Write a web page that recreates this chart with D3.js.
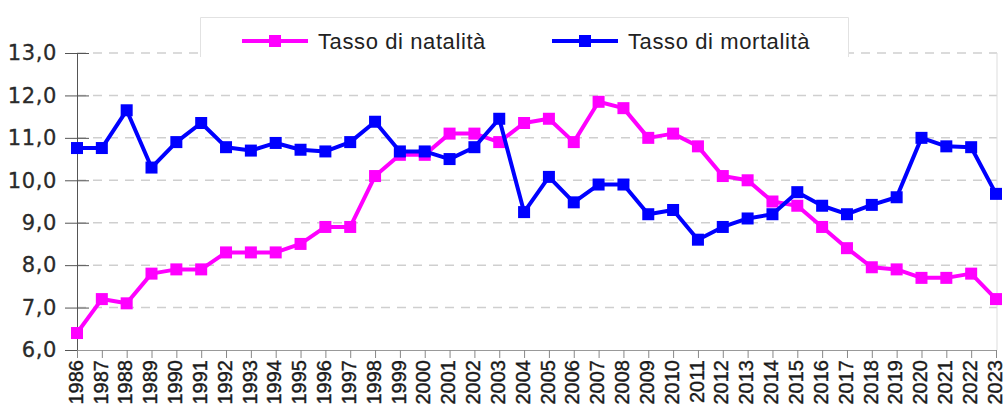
<!DOCTYPE html>
<html>
<head>
<meta charset="utf-8">
<script src="https://cdn.jsdelivr.net/npm/d3@7"></script>
<style>
  html, body { margin: 0; padding: 0; background: #fff; }
  svg { display: block; }
</style>
</head>
<body>
<div id="chart"></div>
<script>
/* DATA */
const years = d3.range(1986, 2024);
const natalita = [6.4, 7.2, 7.1, 7.8, 7.9, 7.9, 8.3, 8.3, 8.3, 8.5, 8.9, 8.9, 10.1, 10.6, 10.6, 11.1, 11.1, 10.9, 11.35, 11.45,
  10.9, 11.85, 11.7, 11.0, 11.1, 10.8, 10.1, 10.0, 9.5, 9.4, 8.9, 8.4, 7.95, 7.9, 7.7, 7.7, 7.8, 7.2];
const mortalita = [10.76, 10.76, 11.65, 10.3, 10.9, 11.35, 10.78, 10.7, 10.88, 10.72, 10.68, 10.9, 11.38, 10.68, 10.68, 10.5, 10.78, 11.45, 9.25, 10.08,
  9.48, 9.9, 9.9, 9.2, 9.3, 8.6, 8.9, 9.1, 9.2, 9.72, 9.4, 9.2, 9.42, 9.6, 11.0, 10.8, 10.78, 9.68];
const yTicks = [6, 7, 8, 9, 10, 11, 12, 13];
const seriesNames = ["Tasso di natalità", "Tasso di mortalità"];
const seriesColors = ["#ff00ff", "#0000ff"];

/* LAYOUT */
const width = 1006, height = 415;
const margin = { left: 77, right: 996, top: 53, bottom: 350 };

const svg = d3.select("#chart").append("svg")
  .attr("width", width)
  .attr("height", height);

const xScale = d3.scaleLinear().domain([1986, 2023]).range([margin.left, margin.right]);
const yScale = d3.scaleLinear().domain([6, 13]).range([margin.bottom, margin.top]);

const itFormat = d3.formatLocale({ decimal: ",", thousands: ".", grouping: [3], currency: ["", "€"] }).format(".1f");

// gridlines
svg.append("g")
  .selectAll("line")
  .data(yTicks.filter(d => d > 6))
  .join("line")
  .attr("x1", margin.left)
  .attr("x2", margin.right + 1)
  .attr("y1", d => yScale(d))
  .attr("y2", d => yScale(d))
  .attr("stroke", "#cfcfcf")
  .attr("stroke-width", 1.5)
  .attr("stroke-dasharray", "9,7");

// right frame
svg.append("line")
  .attr("x1", margin.right + 1).attr("x2", margin.right + 1)
  .attr("y1", margin.top).attr("y2", margin.bottom)
  .attr("stroke", "#dddddd");

// y axis
const yAxis = d3.axisLeft(yScale)
  .tickValues(yTicks)
  .tickFormat(itFormat)
  .tickSizeInner(12)
  .tickSizeOuter(0);

const yAxisGroup = svg.append("g")
  .attr("transform", `translate(${margin.left},0)`)
  .call(yAxis);
yAxisGroup.select(".domain").attr("stroke", "#555");
yAxisGroup.selectAll(".tick line").attr("stroke", "#555").attr("x1", 12).attr("x2", -12);
yAxisGroup.selectAll(".tick text")
  .attr("font-family", "DejaVu Sans, Verdana, sans-serif")
  .attr("font-size", 21)
  .attr("letter-spacing", 0.6)
  .attr("fill", "#2a2a2a")
  .attr("stroke", "#2a2a2a")
  .attr("stroke-width", 0.3)
  .attr("x", -20);

// x axis
const xAxis = d3.axisBottom(xScale)
  .tickValues(years)
  .tickFormat(d => String(d))
  .tickSizeInner(8)
  .tickSizeOuter(0);

const xAxisGroup = svg.append("g")
  .attr("transform", `translate(0,${margin.bottom})`)
  .call(xAxis);
xAxisGroup.select(".domain").attr("stroke", "#999").attr("d", `M${margin.left},0.5H${margin.right + 1}`);
xAxisGroup.selectAll(".tick line").attr("stroke", "#888");
xAxisGroup.selectAll(".tick text")
  .attr("font-family", "Liberation Sans, Arial, sans-serif")
  .attr("font-size", 20)
  .attr("fill", "#1a1a1a")
  .attr("stroke", "#1a1a1a")
  .attr("stroke-width", 0.4)
  .attr("text-anchor", "end")
  .attr("transform", "rotate(-90)")
  .attr("x", -10)
  .attr("y", 0)
  .attr("dy", "0.26em");

// lines + markers
const lineGen = d3.line()
  .x((d, i) => xScale(years[i]))
  .y(d => yScale(d));

[natalita, mortalita].forEach((series, s) => {
  svg.append("path")
    .datum(series)
    .attr("d", lineGen)
    .attr("fill", "none")
    .attr("stroke", seriesColors[s])
    .attr("stroke-width", 4)
    .attr("stroke-linejoin", "round");

  svg.append("g")
    .selectAll("rect")
    .data(series)
    .join("rect")
    .attr("x", (d, i) => xScale(years[i]) - 6)
    .attr("y", d => yScale(d) - 6)
    .attr("width", 12)
    .attr("height", 12)
    .attr("fill", seriesColors[s]);
});

// legend
const legend = svg.append("g");
legend.append("rect")
  .attr("x", 200).attr("y", 17)
  .attr("width", 648).attr("height", 40)
  .attr("fill", "#fff");
legend.append("path")
  .attr("d", "M200.5,57V17.5H848.5V57")
  .attr("fill", "none")
  .attr("stroke", "#e2e2e2");

const legendX = [242, 552];
seriesNames.forEach((name, s) => {
  const g = legend.append("g").attr("transform", `translate(${legendX[s]},41)`);
  g.append("line")
    .attr("x1", 0).attr("x2", 66)
    .attr("stroke", seriesColors[s])
    .attr("stroke-width", 4);
  g.append("rect")
    .attr("x", 27).attr("y", -6)
    .attr("width", 12).attr("height", 12)
    .attr("fill", seriesColors[s]);
  g.append("text")
    .attr("x", 76)
    .attr("y", 8)
    .attr("font-family", "Liberation Sans, Arial, sans-serif")
    .attr("font-size", 22)
    .attr("letter-spacing", 0.6)
    .attr("fill", "#222")
    .text(name);
});
</script>
</body>
</html>
